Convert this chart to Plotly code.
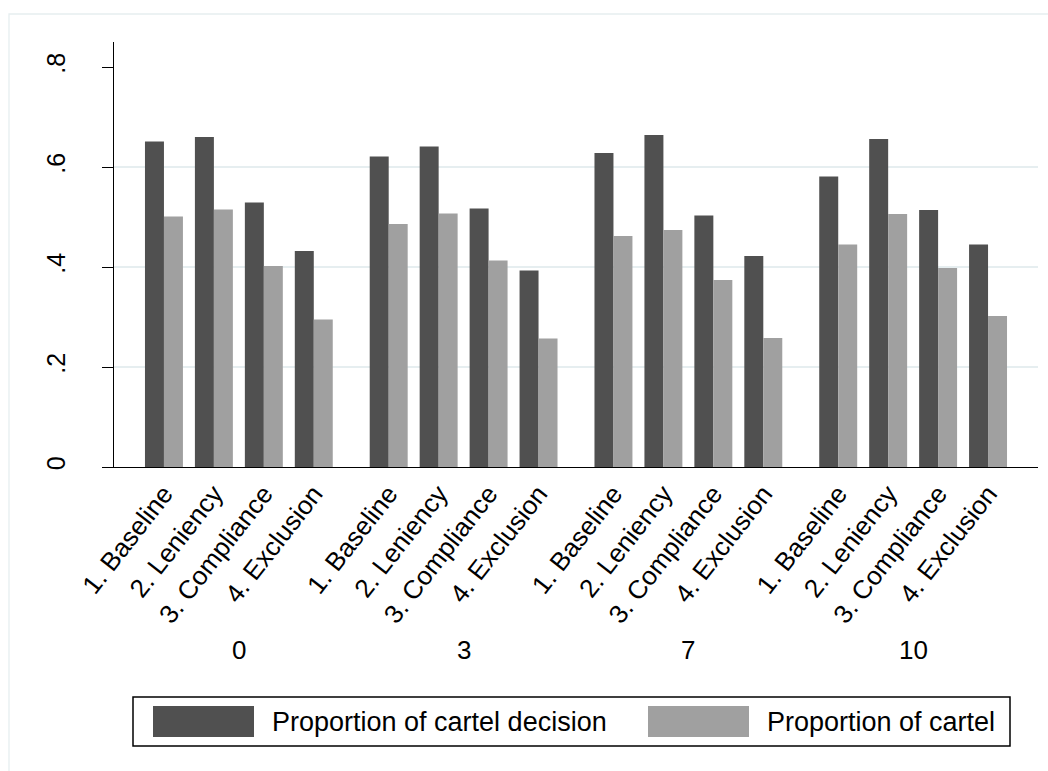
import plotly.graph_objects as go

# Treatment categories and the lag groups they are shown over
categories = ["1. Baseline", "2. Leniency", "3. Compliance", "4. Exclusion"]
groups = ["0", "3", "7", "10"]

# Proportions per group, in category order
decision = {
    "0": [0.651, 0.660, 0.529, 0.432],
    "3": [0.621, 0.641, 0.517, 0.393],
    "7": [0.628, 0.664, 0.503, 0.422],
    "10": [0.581, 0.656, 0.514, 0.445],
}
cartel = {
    "0": [0.501, 0.515, 0.402, 0.295],
    "3": [0.486, 0.507, 0.413, 0.257],
    "7": [0.462, 0.474, 0.374, 0.258],
    "10": [0.445, 0.506, 0.398, 0.302],
}

series_names = ["Proportion of cartel decision", "Proportion of cartel"]
y_ticks = [0, 0.2, 0.4, 0.6, 0.8]
y_tick_text = ["0", ".2", ".4", ".6", ".8"]

DARK = "#505050"
LIGHT = "#a0a0a0"
GRID = "#e6eef0"
FONT = "Liberation Sans, Arial, Helvetica, sans-serif"

# Slot layout: categories one unit apart, half a unit extra between groups
GROUP_STRIDE = len(categories) + 0.5
xpos, xlab, v_dec, v_car = [], [], [], []
for gi, g in enumerate(groups):
    for ci, c in enumerate(categories):
        xpos.append(gi * GROUP_STRIDE + ci)
        xlab.append(c)
        v_dec.append(decision[g][ci])
        v_car.append(cartel[g][ci])

fig = go.Figure()
fig.add_trace(go.Bar(x=xpos, y=v_dec, name=series_names[0], marker_color=DARK,
                     marker_line_width=0, showlegend=False))
fig.add_trace(go.Bar(x=xpos, y=v_car, name=series_names[1], marker_color=LIGHT,
                     marker_line_width=0, showlegend=False))

W, H = 1048, 771
ML, MR, MT, MB = 114, 10, 42, 304
plot_w, plot_h = W - ML - MR, H - MT - MB


def px_x(p):
    return (p - ML) / plot_w


def px_y(p):
    return (H - MB - p) / plot_h


fig.update_layout(
    width=W, height=H,
    margin=dict(l=ML, r=MR, t=MT, b=MB),
    paper_bgcolor="white", plot_bgcolor="white",
    barmode="group", bargap=0.24, bargroupgap=0,
    font=dict(family=FONT, color="black"),
    xaxis=dict(
        range=[-1, xpos[-1] + 1],
        tickmode="array", tickvals=xpos, ticktext=xlab,
        tickangle=-52, tickfont=dict(size=26),
        showgrid=False, zeroline=False, ticks="",
        showline=True, linecolor="black", linewidth=1.3,
    ),
    yaxis=dict(
        range=[0, 0.85],
        tickmode="array", tickvals=y_ticks, ticktext=y_tick_text,
        tickangle=-90, tickfont=dict(size=25),
        ticks="outside", ticklen=11, tickwidth=1.3, tickcolor="black",
        ticklabelstandoff=27,
        showgrid=False, zeroline=False,
        showline=True, linecolor="black", linewidth=1.3,
    ),
    # Grid-only overlay axis: interior gridlines
    yaxis2=dict(
        range=[0, 0.85], overlaying="y", side="left",
        tickmode="array", tickvals=y_ticks[1:-1],
        showticklabels=False, ticks="", showline=False, zeroline=False,
        showgrid=True, gridcolor=GRID, gridwidth=1.5, layer="below traces",
    ),
)
fig.add_trace(go.Scatter(x=[None], y=[None], yaxis="y2", showlegend=False,
                         hoverinfo="skip"))

# Group labels centred under each block of categories
for gi, g in enumerate(groups):
    block = xpos[gi * len(categories):(gi + 1) * len(categories)]
    fig.add_annotation(x=sum(block) / len(block), xref="x",
                       y=px_y(650), yref="paper", text=g, showarrow=False,
                       font=dict(size=26), xanchor="center", yanchor="middle")

# Outer graph-region frame
fig.add_shape(type="rect", xref="paper", yref="paper",
              x0=px_x(9), y0=px_y(14), x1=px_x(1060), y1=px_y(790),
              line=dict(color=GRID, width=1.3), fillcolor="rgba(0,0,0,0)",
              layer="below")

# Legend box with wide swatches
fig.add_shape(type="rect", xref="paper", yref="paper",
              x0=px_x(133), y0=px_y(697), x1=px_x(1010), y1=px_y(746),
              line=dict(color="black", width=1.5), fillcolor="white")
legend_items = [(series_names[0], DARK, 153, 270), (series_names[1], LIGHT, 648, 765)]
for name, col, sx, tx in legend_items:
    fig.add_shape(type="rect", xref="paper", yref="paper",
                  x0=px_x(sx), y0=px_y(706), x1=px_x(sx + 101), y1=px_y(737),
                  line=dict(width=0), fillcolor=col)
    fig.add_annotation(x=px_x(tx), xref="paper", y=px_y(721.5), yref="paper",
                       text=name, showarrow=False, font=dict(size=27),
                       xanchor="left", yanchor="middle")

fig.write_html("out.html")
